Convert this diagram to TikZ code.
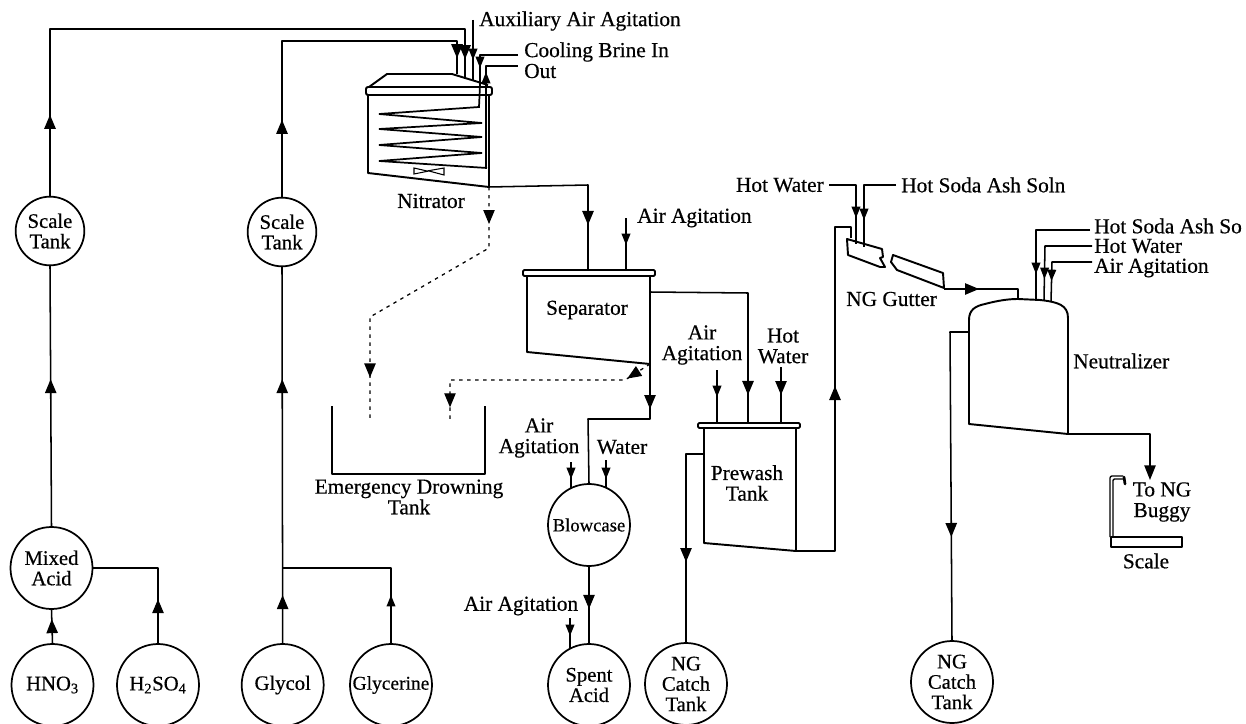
\documentclass[tikz,border=0pt]{standalone}
\usepackage{fontspec}
\setmainfont{Liberation Serif}[FakeBold=0.5]
\usetikzlibrary{arrows.meta,decorations.markings}
\tikzset{
  pipe/.style={line width=1.15pt,line join=round},
  vessel/.style={line width=1.45pt,line join=round},
  coil/.style={line width=1.3pt,line join=miter},
  dotted pipe/.style={line width=0.95pt,dash pattern=on 2.6pt off 3.4pt},
  flow/.style={postaction={decorate,decoration={markings,
    mark=at position #1*0.75pt with {\arrow{Triangle[length=10.5pt,width=8.5pt]}}}}},
  flowsmall/.style={postaction={decorate,decoration={markings,
    mark=at position #1*0.75pt with {\arrow{Triangle[length=8.5pt,width=6.5pt]}}}}},
  tank/.style={circle,draw,line width=1.3pt,inner sep=0pt,minimum size=61.5pt,align=center,font=\fontsize{15.5}{15.3}\selectfont},
  smalltank/.style={tank,minimum size=51.5pt},
  lbl/.style={inner sep=0pt,align=center,font=\fontsize{16}{15.5}\selectfont},
  lblw/.style={lbl,anchor=west}
}
\begin{document}
\begin{tikzpicture}[x=0.75pt,y=-0.75pt]
\useasboundingbox (0,0) rectangle (1246,724);
\clip (0,0) rectangle (1246,724);
\fill[white] (0,0) rectangle (1246,724);

% ---- round vessels
\node[smalltank] (scaleA) at (50,231) {Scale\\Tank};
\node[smalltank] (scaleB) at (282,232) {Scale\\Tank};
\node[tank] (mixed) at (51.5,568) {Mixed\\Acid};
\node[tank] (hno) at (52.5,685) {HNO\textsubscript{3}};
\node[tank] (hso) at (158,685) {H\textsubscript{2}SO\textsubscript{4}};
\node[tank] (glycol) at (282.7,685) {Glycol};
\node[tank,font=\fontsize{14.6}{15}\selectfont] (glycerine) at (391,685) {Glycerine};
\node[tank,font=\fontsize{14}{15}\selectfont] (blow) at (589,525) {Blowcase};
\node[tank] (spent) at (589,685) {Spent\\Acid};
\node[tank] (catchA) at (686,684) {NG\\Catch\\Tank};
\node[tank] (catchB) at (952,682) {NG\\Catch\\Tank};

% ---- attachment points on the drawn vessels
\coordinate (nitA) at (465,77);
\coordinate (nitB) at (457,74);
\coordinate (nitAux) at (473,80);
\coordinate (nitIn) at (480,85);
\coordinate (nitOut) at (486,85);
\coordinate (nitDrain) at (489,187);
\coordinate (sepTopA) at (588,270);
\coordinate (sepTopB) at (626,270);
\coordinate (sepSide) at (650,292);
\coordinate (sepDrain) at (650,364);
\coordinate (preTopA) at (717,423);
\coordinate (preTopB) at (748,423);
\coordinate (preTopC) at (781,423);
\coordinate (preSide) at (704,454);
\coordinate (preDrain) at (796,551);
\coordinate (gutIn) at (851,238);
\coordinate (gutWater) at (856,244);
\coordinate (gutSoda) at (864,247);
\coordinate (gutOut) at (944,289);
\coordinate (neuTop) at (1018,299);
\coordinate (neuSoda) at (1036,299);
\coordinate (neuWater) at (1044,300);
\coordinate (neuAir) at (1051,302);
\coordinate (neuSide) at (969,332);
\coordinate (neuDrain) at (1068,434);
\coordinate (buggy) at (1150,480);
\coordinate (brineEnd) at (518,55);
\coordinate (outEnd) at (518,66);
\coordinate (hotEnd) at (829,185);
\coordinate (sodaEnd) at (896,185);
\coordinate (sodaNeuEnd) at (1090,230);
\coordinate (waterNeuEnd) at (1092,246);
\coordinate (airNeuEnd) at (1092,262);

% ---- nitrator
\draw[vessel] (369,87) -- (387,74) -- (452,74) -- (488,85);
\draw[vessel,rounded corners=1.5pt,fill=white] (366,87) rectangle (492,95);
\draw[vessel] (368,95) -- (368,173) -- (489,187) -- (489,95);
\draw[coil] (nitIn) -- (479,107) -- (379,114) -- (482,123) -- (379,129) -- (482,137) -- (379,145) -- (482,153) -- (379,161) -- (487,168);
\draw[pipe] (nitOut) -- (486,168);
\draw[line width=0.8pt] (414,168) -- (427,171) -- (444,168) -- (444,175) -- (429,171) -- (414,174) -- cycle;
\node[lblw] (nitrator) at (397,201) {Nitrator};

% ---- separator
\draw[vessel] (527,276) -- (527,352) -- (sepDrain) -- (650,276);
\draw[vessel,rounded corners=1pt,fill=white] (523,270) rectangle (655,276);
\node[lbl] (separator) at (587,310) {Separator};

% ---- emergency drowning tank
\draw[vessel] (332,406) -- (332,474) -- (485,474) -- (485,406);
\node[lbl] (drown) at (409,497) {Emergency Drowning\\Tank};

% ---- prewash tank
\draw[vessel] (704,428) -- (704,543) -- (preDrain) -- (796,428);
\draw[vessel,rounded corners=1pt,fill=white] (698,423) rectangle (800,428);
\node[lbl] (prewash) at (747,483) {Prewash\\Tank};

% ---- NG gutter
\draw[vessel] (847,239) -- (882,249) -- (883,257) -- (880,258) -- (885,267) -- (880,267) -- (848,255) -- cycle;
\draw[vessel] (893,255) -- (943,273) -- (944,288) -- (897,270) -- (891,262) -- cycle;
\node[lblw] (gutter) at (846,299) {NG Gutter};

% ---- neutralizer
\draw[vessel] (969,424) -- (969,320) .. controls (969,310) and (975,306) .. (985,304)
  .. controls (1000,300) and (1010,299) .. (1018,299) -- (1040,300)
  .. controls (1058,302) and (1068,305) .. (1068,318) -- (neuDrain) -- cycle;
\node[lblw] (neutral) at (1073,361) {Neutralizer};

% ---- scale
\draw[vessel] (1111,537) rectangle (1182,547);
\draw[line width=1pt,rounded corners=1.5pt] (1110,537) -- (1110,476) -- (1123,476);
\draw[line width=1pt,rounded corners=1pt] (1113,537) -- (1113,479) -- (1123,479);
\draw[line width=2pt,line cap=round] (1124,477) -- (1125,484);
\node[lbl] (tobuggy) at (1162,502) {To NG\\Buggy};
\node[lbl] (scalelbl) at (1146,561) {Scale};

% ---- text labels with leaders
\node[lblw] (aux) at (479,21) {Auxiliary Air Agitation};
\node[lblw] (brine) at (524,52) {Cooling Brine In};
\node[lblw] (out) at (524,71) {Out};
\node[lblw] (airSep) at (637,218) {Air Agitation};
\node[lbl] (airPre) at (702,345) {Air\\Agitation};
\node[lbl] (hotPre) at (783,346) {Hot\\Water};
\node[lbl] (airBlow) at (539,438) {Air\\Agitation};
\node[lbl] (waterBlow) at (622,447) {Water};
\node[lbl] (airSpent) at (521,606) {Air Agitation};
\node[lbl,anchor=east] (hotGut) at (824,185) {Hot Water};
\node[lblw] (sodaGut) at (901,185) {Hot Soda Ash Soln};
\node[lblw] (sodaNeu) at (1094,226) {Hot Soda Ash So};
\node[lblw] (waterNeu) at (1094,246) {Hot Water};
\node[lblw] (airNeu) at (1094,268) {Air Agitation};

% ---- connectors
\draw[pipe,flow=24] (hno.north) -- (mixed.south);
\draw[pipe,flow=44] (hso.north) |- (mixed.east);
\draw[pipe,flow=147] (mixed.north) -- (scaleA.south);
\draw[pipe,flow=81,flow=612] (scaleA.north) -- (50,29) -- (465,29) -- (nitA);
\draw[pipe,flow=48,flow=264] (glycol.north) -- (scaleB.south);
\draw[pipe,flowsmall=48] (glycerine.north) -- (391,568) -- (283,568);
\draw[pipe,flow=77,flow=348] (scaleB.north) -- (282,41) -- (457,41) -- (nitB);
\draw[pipe,flowsmall=40] (473,20) -- (nitAux);
\draw[pipe,flowsmall=51] (brineEnd) -- (480,55) -- (nitIn);
\draw[pipe,flowsmall=13] (nitOut) -- (486,66) -- (outEnd);
\draw[pipe,flow=139] (nitDrain) -- (588,185) -- (sepTopA);
\draw[dotted pipe,flow=37,flow=259] (nitDrain) -- (489,248) -- (370,317) -- (370,420);
\draw[pipe,flowsmall=27] (626,218) -- (sepTopB);
\draw[pipe,flow=45] (sepDrain) -- (650,419) -- (588,419) -- (blow.north);
\draw[pipe,flow=200] (sepSide) -- (748,293) -- (preTopB);
\draw[dotted pipe,flow=27,flow=232] (sepDrain) -- (625,380) -- (450,380) -- (450,423);
\draw[pipe,flowsmall=17] (571,462) -- (571,488);
\draw[pipe,flowsmall=19] (606,460) -- (606,488);
\draw[pipe,flow=42] (blow.south) -- (spent.north);
\draw[pipe,flowsmall=18] (570,618) -- (570,648);
\draw[pipe,flowsmall=27] (717,370) -- (preTopA);
\draw[pipe,flow=28] (781,367) -- (preTopC);
\draw[pipe,flow=126] (preSide) -- (686,454) -- (catchA.north);
\draw[pipe,flow=204] (preDrain) -- (835,551) -- (835,227) -- (851,227) -- (gutIn);
\draw[pipe,flowsmall=60] (hotEnd) -- (856,185) -- (gutWater);
\draw[pipe,flowsmall=67] (sodaEnd) -- (864,185) -- (gutSoda);
\draw[pipe,flow=35] (gutOut) -- (1018,289) -- (neuTop);
\draw[pipe,flowsmall=98] (sodaNeuEnd) -- (1036,230) -- (neuSoda);
\draw[pipe,flowsmall=80] (waterNeuEnd) -- (1045,246) -- (neuWater);
\draw[pipe,flowsmall=59] (airNeuEnd) -- (1052,262) -- (neuAir);
\draw[pipe,flow=224] (neuSide) -- (950,332) -- (catchB.north);
\draw[pipe,-{Triangle[length=11pt,width=8.5pt]}] (neuDrain) -- (1150,434) -- (buggy);
\end{tikzpicture}
\end{document}
